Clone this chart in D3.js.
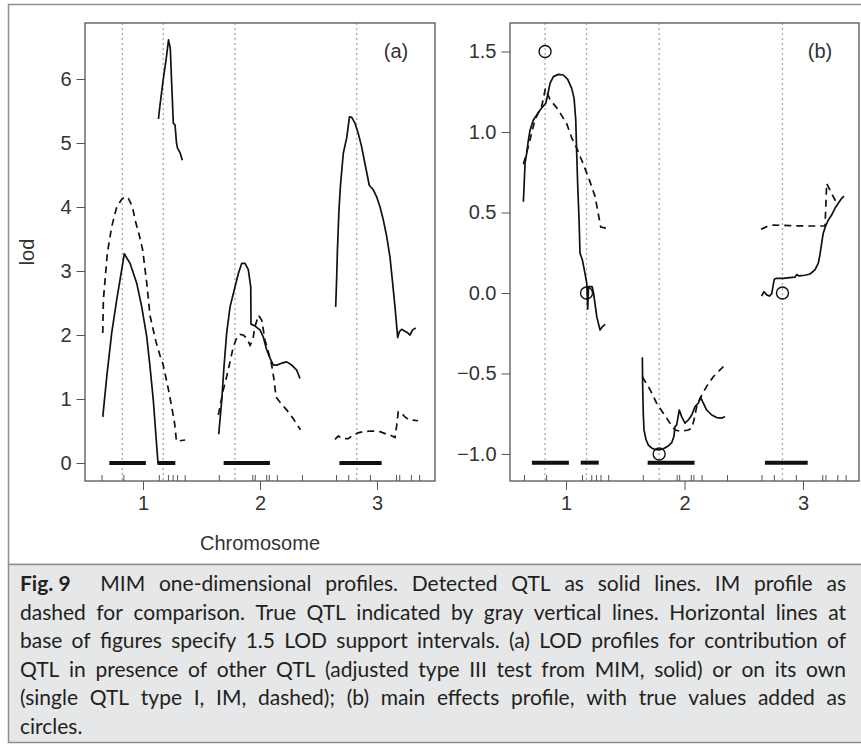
<!DOCTYPE html>
<html>
<head>
<meta charset="utf-8">
<script src="https://d3js.org/d3.v7.min.js"></script>
<style>
  body { margin: 0; background: #fff; }
  svg { display: block; }
  .axis text { font-family: "Liberation Sans", Arial, sans-serif; font-size: 20px; fill: #333; }
  .axis line { stroke: #555; }
  .axis path { display: none; }
</style>
</head>
<body>
<div id="chart"></div>
<script>
// ---- values (x in chromosome units) ----
var chromTicks = [1, 2, 3];
var markers = [0.645, 0.832, 1.135, 1.213, 1.253, 1.291, 1.356,
               1.648, 1.934, 1.955, 2.053, 2.075, 2.144, 2.359,
               2.650, 2.754, 2.940, 3.163, 3.190, 3.290, 3.360];
var trueQTL = [0.823, 1.173, 1.786, 2.827];
var trueEffects = [1.5, 0, -1.0, 0];
var supportIntervals = [[0.712, 1.024], [1.124, 1.276], [1.689, 2.085], [2.679, 3.040]];
var lodTicks = [0, 1, 2, 3, 4, 5, 6];
var effectTicks = [-1.0, -0.5, 0, 0.5, 1.0, 1.5];

// (a) MIM type III LOD (solid), one array per QTL segment
var lodMim1 = [[0.656,0.72],[0.690,1.35],[0.732,2.03],[0.775,2.55],[0.818,3.02],[0.840,3.27],[0.889,3.12],
  [0.946,2.81],[0.989,2.44],[1.032,1.97],[1.060,1.50],[1.088,0.98],[1.111,0.41],[1.128,0.0],[1.16,0.0]];
var lodMim2 = [[1.132,5.375],[1.145,5.59],[1.174,6.01],[1.197,6.30],[1.218,6.61],[1.233,6.48],[1.245,5.93],
  [1.259,5.31],[1.274,5.28],[1.286,5.00],[1.295,4.92],[1.316,4.85],[1.336,4.73]];
var lodMim3 = [[1.647,0.45],[1.673,0.98],[1.692,1.50],[1.715,2.03],[1.744,2.44],[1.786,2.75],[1.815,2.96],
  [1.844,3.12],[1.872,3.12],[1.900,3.02],[1.921,2.75],[1.923,2.17],[1.957,2.14],[2.000,2.08],[2.028,1.97],
  [2.057,1.77],[2.085,1.64],[2.114,1.53],[2.143,1.53],[2.185,1.56],[2.228,1.58],[2.271,1.53],[2.314,1.45],[2.342,1.32]];
var lodMim4 = [[2.647,2.44],[2.654,2.81],[2.662,3.33],[2.675,3.95],[2.688,4.34],[2.712,4.84],[2.741,5.08],
  [2.765,5.41],[2.784,5.40],[2.812,5.31],[2.840,5.15],[2.869,4.94],[2.897,4.68],[2.934,4.34],[2.968,4.27],
  [2.997,4.16],[3.026,4.00],[3.054,3.80],[3.083,3.54],[3.111,3.22],[3.134,2.81],[3.154,2.44],[3.177,1.96],
  [3.191,2.05],[3.211,2.09],[3.239,2.06],[3.259,2.04],[3.282,2.00],[3.305,2.08],[3.331,2.11]];

// (a) single-QTL IM LOD (dashed)
var lodIm1 = [[0.656,2.03],[0.661,2.55],[0.695,3.28],[0.732,3.69],[0.775,4.00],[0.818,4.12],[0.846,4.16],
  [0.876,4.13],[0.910,4.00],[0.932,3.80],[0.968,3.56],[0.997,3.33],[1.032,2.81],[1.060,2.30],[1.085,2.10],
  [1.110,1.90],[1.145,1.68],[1.170,1.55],[1.188,1.40],[1.216,1.16],[1.245,0.88],[1.270,0.62],[1.286,0.34],[1.360,0.36]];
var lodIm2 = [[1.644,0.75],[1.686,1.14],[1.715,1.35],[1.744,1.58],[1.772,1.82],[1.801,1.95],[1.829,2.01],
  [1.857,2.00],[1.886,1.95],[1.915,1.84],[1.938,1.92],[1.957,2.13],[1.987,2.31],[2.015,2.23],[2.043,1.92],
  [2.071,1.74],[2.100,1.53],[2.120,1.30],[2.137,1.03],[2.179,0.93],[2.228,0.83],[2.285,0.69],[2.346,0.52]];
var lodIm3 = [[2.641,0.37],[2.669,0.42],[2.712,0.38],[2.755,0.38],[2.797,0.44],[2.838,0.47],[2.883,0.49],
  [2.955,0.50],[3.026,0.49],[3.083,0.45],[3.120,0.43],[3.154,0.40],[3.168,0.58],[3.182,0.80],[3.211,0.78],
  [3.239,0.72],[3.268,0.68],[3.310,0.67],[3.350,0.66]];

// (b) main effects, MIM (solid)
var effMim1 = [[0.640,0.567],[0.648,0.70],[0.654,0.806],[0.668,0.868],[0.682,0.95],[0.696,1.01],[0.724,1.075],
  [0.753,1.106],[0.781,1.137],[0.808,1.161],[0.829,1.178],[0.845,1.23],[0.865,1.302],[0.893,1.344],[0.935,1.358],
  [0.977,1.354],[1.014,1.327],[1.048,1.271],[1.068,1.209],[1.082,1.075],[1.090,0.868],[1.099,0.66],[1.110,0.453],
  [1.118,0.247],[1.138,0.205],[1.160,0.122],[1.175,0.06],[1.183,-0.10],[1.190,0.04],[1.220,0.04],[1.232,0.0],
  [1.260,-0.15],[1.287,-0.23],[1.306,-0.21],[1.330,-0.195]];
var effMim2 = [[1.644,-0.40],[1.647,-0.58],[1.652,-0.747],[1.658,-0.85],[1.675,-0.91],[1.695,-0.945],[1.723,-0.963],
  [1.751,-0.972],[1.786,-0.975],[1.821,-0.968],[1.863,-0.95],[1.892,-0.93],[1.911,-0.89],[1.920,-0.83],[1.934,-0.82],
  [1.956,-0.727],[1.976,-0.768],[2.004,-0.809],[2.032,-0.789],[2.061,-0.758],[2.089,-0.706],[2.116,-0.685],
  [2.137,-0.65],[2.159,-0.685],[2.187,-0.727],[2.230,-0.758],[2.272,-0.774],[2.314,-0.778],[2.342,-0.768]];
var effMim3 = [[2.651,-0.019],[2.671,0.008],[2.694,-0.012],[2.716,-0.019],[2.736,-0.006],[2.749,0.05],[2.758,0.085],
  [2.778,0.091],[2.834,0.091],[2.890,0.095],[2.932,0.098],[2.947,0.114],[2.969,0.106],[3.017,0.11],[3.059,0.118],
  [3.101,0.143],[3.129,0.184],[3.143,0.236],[3.158,0.309],[3.171,0.371],[3.194,0.422],[3.214,0.453],[3.242,0.484],
  [3.270,0.526],[3.298,0.557],[3.327,0.588],[3.346,0.602]];

// (b) main effects, IM (dashed)
var effIm1 = [[0.640,0.80],[0.682,0.91],[0.705,0.98],[0.738,1.075],[0.766,1.12],[0.795,1.16],[0.812,1.22],
  [0.826,1.27],[0.865,1.20],[0.922,1.15],[0.965,1.10],[1.006,1.05],[1.050,0.96],[1.090,0.90],[1.146,0.80],
  [1.203,0.69],[1.245,0.60],[1.270,0.50],[1.293,0.41],[1.350,0.40]];
var effIm2 = [[1.644,-0.52],[1.709,-0.60],[1.765,-0.685],[1.821,-0.747],[1.878,-0.81],[1.920,-0.851],[1.970,-0.86],
  [2.032,-0.851],[2.061,-0.84],[2.080,-0.789],[2.103,-0.706],[2.131,-0.654],[2.187,-0.58],[2.243,-0.52],
  [2.300,-0.478],[2.356,-0.437]];
var effIm3 = [[2.646,0.396],[2.694,0.412],[2.750,0.422],[2.890,0.418],[3.030,0.416],[3.186,0.416],[3.194,0.557],
  [3.200,0.681],[3.242,0.619],[3.270,0.578],[3.298,0.557]];

var captionLead = "Fig. 9";
var captionLines = [
  "MIM one-dimensional profiles. Detected QTL as solid lines. IM profile as",
  "dashed for comparison. True QTL indicated by gray vertical lines. Horizontal lines at",
  "base of figures specify 1.5 LOD support intervals. (a) LOD profiles for contribution of",
  "QTL in presence of other QTL (adjusted type III test from MIM, solid) or on its own",
  "(single QTL type I, IM, dashed); (b) main effects profile, with true values added as",
  "circles."
];

// ---- page ----
var W = 861, H = 746;
var plotTop = 23, plotBottom = 481;

var svg = d3.select("#chart")
  .append("svg")
  .attr("width", W)
  .attr("height", H);

// figure frame and caption box
svg.append("rect")
  .attr("x", 8.5).attr("y", 4.5).attr("width", 880).attr("height", 560)
  .attr("fill", "#fff").attr("stroke", "#8f8f8f").attr("stroke-width", 1.5);
svg.append("rect")
  .attr("x", 8.5).attr("y", 564.5).attr("width", 880).attr("height", 178)
  .attr("fill", "#e6e7e8").attr("stroke", "#8f8f8f").attr("stroke-width", 1.5);

var panels = [
  { left: 85, right: 435, xdom: [0.504, 3.496], ydom: [-0.281, 6.875],
    yticks: lodTicks, fmt: d3.format("d"), solid: [lodMim1, lodMim2, lodMim3, lodMim4],
    dashed: [lodIm1, lodIm2, lodIm3], barLevel: 0, label: "(a)", ylab: "lod", xlab: "Chromosome" },
  { left: 510, right: 859, xdom: [0.527, 3.473], ydom: [-1.168, 1.677],
    yticks: effectTicks, fmt: d3.format(".1f"), solid: [effMim1, effMim2, effMim3],
    dashed: [effIm1, effIm2, effIm3], barLevel: -1.054, label: "(b)", circles: true }
];

panels.forEach(function(p) {
  var x = d3.scaleLinear().domain(p.xdom).range([p.left, p.right]);
  var y = d3.scaleLinear().domain(p.ydom).range([plotBottom, plotTop]);
  var g = svg.append("g");

  var line = d3.line()
    .x(function(d) { return x(d[0]); })
    .y(function(d) { return y(d[1]); });

  // true QTL positions
  g.selectAll("line.qtl")
    .data(trueQTL)
    .enter().append("line")
    .attr("x1", function(d) { return x(d); })
    .attr("x2", function(d) { return x(d); })
    .attr("y1", plotTop).attr("y2", plotBottom)
    .attr("stroke", "#a8a8a8").attr("stroke-width", 1.3)
    .attr("stroke-dasharray", "2,3");

  // IM profiles
  g.selectAll("path.im")
    .data(p.dashed)
    .enter().append("path")
    .attr("d", line)
    .attr("fill", "none").attr("stroke", "#111").attr("stroke-width", 1.7)
    .attr("stroke-dasharray", "7,5");

  // MIM profiles
  g.selectAll("path.mim")
    .data(p.solid)
    .enter().append("path")
    .attr("d", line)
    .attr("fill", "none").attr("stroke", "#111").attr("stroke-width", 1.7)
    .attr("stroke-linejoin", "round");

  // 1.5 LOD support intervals
  g.selectAll("line.si")
    .data(supportIntervals)
    .enter().append("line")
    .attr("x1", function(d) { return x(d[0]); })
    .attr("x2", function(d) { return x(d[1]); })
    .attr("y1", y(p.barLevel)).attr("y2", y(p.barLevel))
    .attr("stroke", "#111").attr("stroke-width", 4);

  if (p.circles) {
    g.selectAll("circle")
      .data(trueQTL)
      .enter().append("circle")
      .attr("cx", function(d) { return x(d); })
      .attr("cy", function(d, i) { return y(trueEffects[i]); })
      .attr("r", 6)
      .attr("fill", "none").attr("stroke", "#111").attr("stroke-width", 1.4);
  }

  // box
  g.append("rect")
    .attr("x", p.left).attr("y", plotTop)
    .attr("width", p.right - p.left).attr("height", plotBottom - plotTop)
    .attr("fill", "none").attr("stroke", "#555").attr("stroke-width", 1.3);

  // Y axis
  g.append("g")
    .attr("class", "axis")
    .attr("transform", "translate(" + p.left + ",0)")
    .call(d3.axisLeft(y).tickValues(p.yticks).tickFormat(p.fmt).tickSize(8.5).tickPadding(5));

  // X axis (chromosome labels)
  g.append("g")
    .attr("class", "axis")
    .attr("transform", "translate(0," + plotBottom + ")")
    .call(d3.axisBottom(x).tickValues(chromTicks).tickFormat(d3.format("d")).tickSize(9).tickPadding(6));

  // marker rug
  g.append("g")
    .attr("class", "axis")
    .attr("transform", "translate(0," + plotBottom + ")")
    .call(d3.axisBottom(x).tickValues(markers).tickFormat("").tickSize(-6));

  g.append("text")
    .attr("x", p.right - 39).attr("y", 58)
    .attr("text-anchor", "middle")
    .attr("font-family", "Liberation Sans, Arial, sans-serif")
    .attr("font-size", 20).attr("fill", "#333")
    .text(p.label);

  if (p.ylab) {
    g.append("text")
      .attr("transform", "translate(34," + ((plotTop + plotBottom) / 2) + ") rotate(-90)")
      .attr("text-anchor", "middle")
      .attr("font-family", "Liberation Sans, Arial, sans-serif")
      .attr("font-size", 20).attr("fill", "#333")
      .text(p.ylab);
  }
  if (p.xlab) {
    g.append("text")
      .attr("x", x(2)).attr("y", 550)
      .attr("text-anchor", "middle")
      .attr("font-family", "Liberation Sans, Arial, sans-serif")
      .attr("font-size", 20).attr("fill", "#333")
      .text(p.xlab);
  }
});

// ---- caption, justified word by word ----
var capLeft = 20, capRight = 846;
var baselines = [591, 619.5, 648, 676.5, 705, 733.5];
var cap = svg.append("g")
  .attr("font-family", "Lato, 'Open Sans', sans-serif")
  .attr("fill", "#231f20");

var fontSize = 21;
var leadGap = 16;

function measure(str, bold, size) {
  var t = cap.append("text").attr("font-size", size)
    .attr("font-weight", bold ? "bold" : "normal").text(str);
  var w = t.node().getComputedTextLength();
  t.remove();
  return w;
}

// shrink font if any line would not fit
var scale = 1;
captionLines.forEach(function(line, i) {
  if (i === captionLines.length - 1) return;
  var words = line.split(" ");
  var sum = d3.sum(words, function(w) { return measure(w, false, fontSize); });
  var avail = capRight - capLeft - (words.length) * 4.5;
  if (i === 0) { sum += measure(captionLead, true, fontSize); avail -= leadGap; }
  scale = Math.min(scale, avail / sum);
});
fontSize = fontSize * scale;

captionLines.forEach(function(line, i) {
  var words = line.split(" ").map(function(w) { return { s: w, b: false }; });
  if (i === 0) words.unshift({ s: captionLead, b: true, lead: true });
  words.forEach(function(w) { w.w = measure(w.s, w.b, fontSize); });
  var gap;
  if (i === captionLines.length - 1) {
    gap = fontSize * 0.25;
  } else {
    var total = d3.sum(words, function(w) { return w.w; }) + (i === 0 ? leadGap : 0);
    gap = (capRight - capLeft - total) / (words.length - 1);
  }
  var xpos = capLeft;
  words.forEach(function(w) {
    cap.append("text")
      .attr("x", xpos).attr("y", baselines[i])
      .attr("font-size", fontSize)
      .attr("font-weight", w.b ? "bold" : "normal")
      .text(w.s);
    xpos += w.w + gap + (w.lead ? leadGap : 0);
  });
});
</script>
</body>
</html>
